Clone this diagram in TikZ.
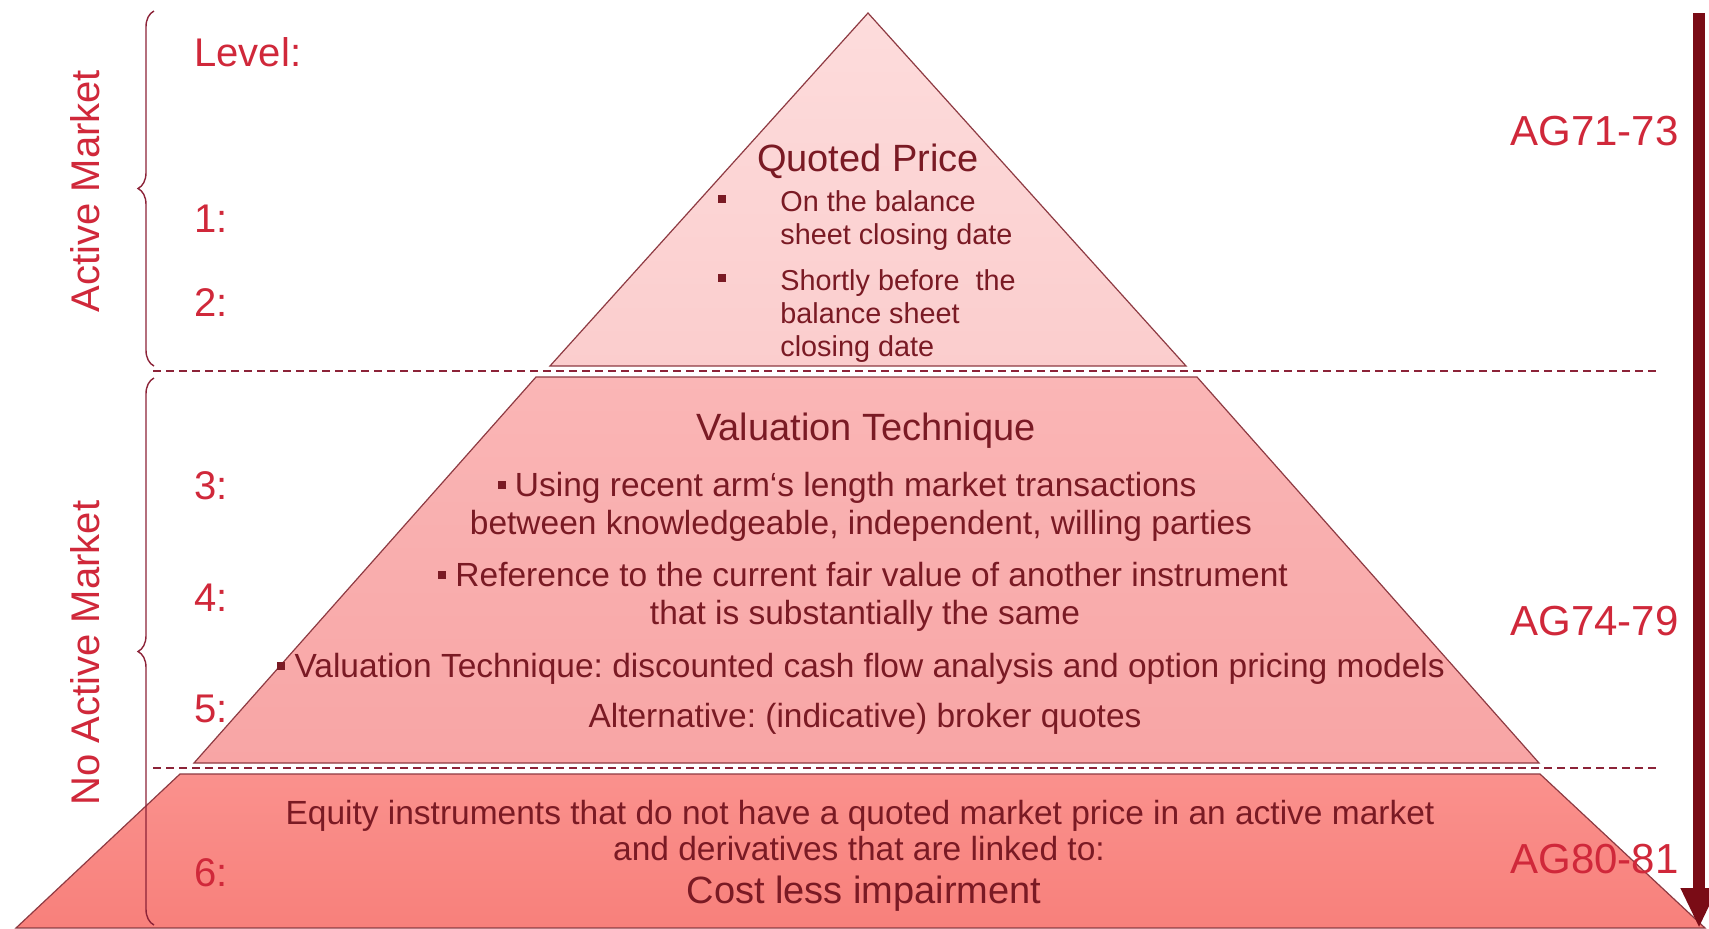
\documentclass[tikz,border=0pt]{standalone}
\usepackage{fontspec}
\setmainfont{Liberation Sans}
\usetikzlibrary{decorations.pathreplacing,arrows.meta}
\definecolor{labred}{HTML}{D0283A}
\definecolor{txtred}{HTML}{7A1A24}
\definecolor{edgered}{HTML}{8E3A42}
\definecolor{dashred}{HTML}{8C2338}
\definecolor{arrred}{HTML}{7A0C16}
\definecolor{lvA}{HTML}{FDDCDC}
\definecolor{lvAb}{HTML}{FBCDCD}
\definecolor{lvB}{HTML}{FAB6B6}
\definecolor{lvBb}{HTML}{F8A5A5}
\definecolor{lvC}{HTML}{FA918D}
\definecolor{lvCb}{HTML}{F8807B}
\newcommand{\sqbul}{\raisebox{0.22em}{\rule{0.24em}{0.24em}}}
\frenchspacing
\begin{document}
\begin{tikzpicture}[x=0.5pt,y=-0.5pt,
  lab/.style={text=labred,font=\fontsize{20}{24}\selectfont,inner sep=0pt},
  lvlnum/.style={lab,anchor=mid west},
  ag/.style={text=labred,font=\fontsize{21}{25}\selectfont,inner sep=0pt,anchor=mid east},
  ttl/.style={text=txtred,font=\fontsize{19}{23}\selectfont,inner sep=0pt,anchor=mid},
  sm/.style={text=txtred,font=\fontsize{14.4}{17}\selectfont,inner sep=0pt,anchor=mid west},
  sqb/.style={fill=txtred,minimum size=4pt,inner sep=0pt},
  md/.style={text=txtred,font=\fontsize{16.75}{20}\selectfont,inner sep=0pt,anchor=mid},
  lvl/.style={draw=edgered,line width=0.6pt},
  sep/.style={draw=dashred,line width=1pt,dash pattern=on 4pt off 2.5pt},
  brc/.style={draw=dashred,line width=0.7pt,decorate,decoration={brace,amplitude=8pt}},
]
\useasboundingbox (0,0) rectangle (1709,928);
\fill[white] (0,0) rectangle (1709,928);

% pyramid levels
\draw[lvl, top color=lvA, bottom color=lvAb] (868,13) -- (1186,366) -- (550,366) -- cycle;
\draw[lvl, top color=lvB, bottom color=lvBb] (536,377) -- (1197,377) -- (1539,763) -- (194,763) -- cycle;
\draw[lvl, top color=lvC, bottom color=lvCb] (180,774) -- (1540,774) -- (1705,928) -- (16,928) -- cycle;

% separators
\coordinate (s1a) at (153,371); \coordinate (s1b) at (1657,371);
\coordinate (s2a) at (153,768); \coordinate (s2b) at (1657,768);
\draw[sep] (s1a) -- (s1b);
\draw[sep] (s2a) -- (s2b);

% braces
\coordinate (br1a) at (154,366); \coordinate (br1b) at (154,11);
\coordinate (br2a) at (154,925); \coordinate (br2b) at (154,378);
\draw[brc] (br1a) -- (br1b);
\draw[brc] (br2a) -- (br2b);

% arrow
\coordinate (atop) at (1699,13); \coordinate (abot) at (1699,928);
\draw[arrred, line width=6pt, -{Triangle[width=17pt,length=20pt]}] (atop) -- (abot);

% side labels
\node[lab,rotate=90] (am) at (85,191) {Active Market};
\node[lab,rotate=90] (nam) at (85,653) {No Active Market};
\node[lvlnum] (lev) at (194,61) {Level:};
\node[lvlnum] (l1) at (194,227) {1:};
\node[lvlnum] (l2) at (194,311) {2:};
\node[lvlnum] (l3) at (194,494) {3:};
\node[lvlnum] (l4) at (194,606) {4:};
\node[lvlnum] (l5) at (194,717) {5:};
\node[lvlnum] (l6) at (194,881) {6:};
\node[ag] (ag1) at (1679,140) {AG71-73};
\node[ag] (ag2) at (1679,630) {AG74-79};
\node[ag] (ag3) at (1679,868) {AG80-81};

% level 1-2
\node[ttl] (qp) at (868,166) {Quoted Price};
\node[sqb] (qb1) at (722,199) {};
\node[sm] (q1a) at (780,206) {On the balance};
\node[sm] (q1b) at (780,239) {sheet closing date};
\node[sqb] (qb2) at (722,278) {};
\node[sm] (q2a) at (780,285) {Shortly before~ the};
\node[sm] (q2b) at (780,318) {balance sheet};
\node[sm] (q2c) at (780,351) {closing date};

% level 3-5
\node[ttl] (vt) at (866,435) {Valuation Technique};
\node[md] (m1) at (847,491) {\sqbul\ Using recent arm‘s length market transactions};
\node[md] (m2) at (861,529) {between knowledgeable, independent, willing parties};
\node[md] (m3) at (863,581) {\sqbul\ Reference to the current fair value of another instrument};
\node[md] (m4) at (865,619) {that is substantially the same};
\node[md] (m5) at (861,672) {\sqbul\ Valuation Technique: discounted cash flow analysis and option pricing models};
\node[md] (m6) at (865,722) {Alternative: (indicative) broker quotes};

% level 6
\node[md] (e1) at (860,819) {Equity instruments that do not have a quoted market price in an active market};
\node[md] (e2) at (859,855) {and derivatives that are linked to:};
\node[ttl] (e3) at (864,898) {Cost less impairment};
\end{tikzpicture}
\end{document}
